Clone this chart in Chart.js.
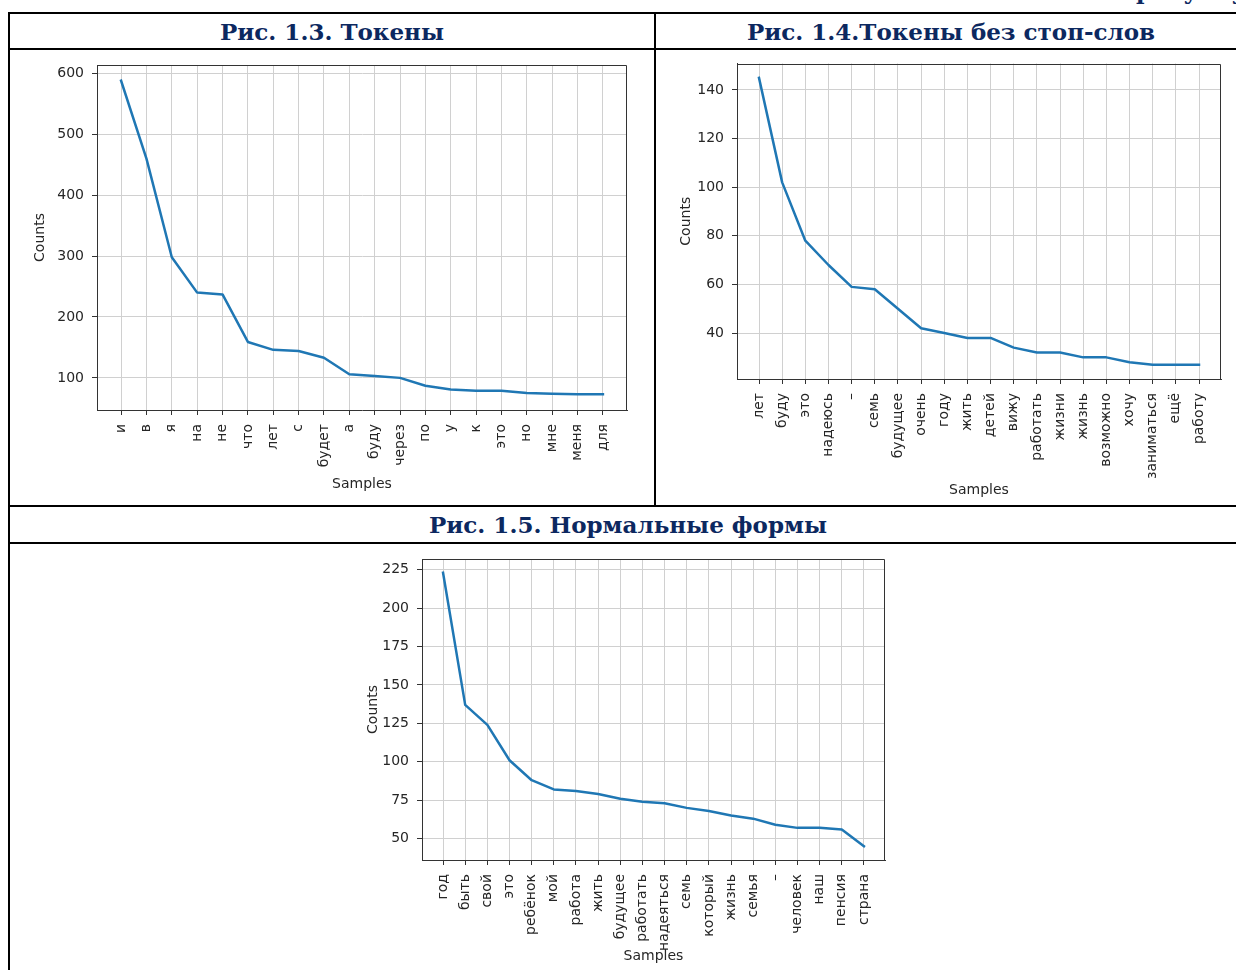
<!DOCTYPE html>
<html><head><meta charset="utf-8">
<script src="https://cdn.jsdelivr.net/npm/chart.js@4.4.1/dist/chart.umd.min.js"></script>
<style>
html,body{margin:0;padding:0;background:#fff;}
#page{position:relative;width:1236px;height:970px;overflow:hidden;background:#fff;}
.hl{position:absolute;background:#000;height:2px;}
.vl{position:absolute;background:#000;width:2px;}
.ttl{position:absolute;font-family:"DejaVu Serif",serif;font-weight:bold;color:#0c2860;font-size:23px;white-space:nowrap;display:flex;align-items:center;justify-content:center;}
.frag{position:absolute;font-family:"DejaVu Serif",serif;font-weight:bold;color:#0c2860;font-size:23px;line-height:23px;white-space:nowrap;}
canvas{position:absolute;}
</style></head><body><div id="page">
<div class="frag" style="left:1136px;top:-21px;">рисунку</div>
<div class="hl" style="left:8px;top:12px;width:1240px;"></div>
<div class="hl" style="left:8px;top:48px;width:1240px;"></div>
<div class="hl" style="left:8px;top:505px;width:1240px;"></div>
<div class="hl" style="left:8px;top:542px;width:1240px;"></div>
<div class="vl" style="left:8px;top:12px;height:960px;"></div>
<div class="vl" style="left:654px;top:12px;height:495px;"></div>
<div class="ttl" style="left:10px;top:14px;width:644px;height:34px;">Рис. 1.3. Токены</div>
<div class="ttl" style="left:656px;top:14px;width:590px;height:34px;">Рис. 1.4.Токены без стоп-слов</div>
<div class="ttl" style="left:10px;top:507px;width:1236px;height:35px;">Рис. 1.5. Нормальные формы</div>
<canvas id="c1" width="638" height="461" style="left:12px;top:43px;"></canvas>
<canvas id="c2" width="576" height="461" style="left:660px;top:43px;"></canvas>
<canvas id="c3" width="570" height="431" style="left:330px;top:539px;"></canvas>
</div>
<script>
const labels1 = ['и','в','я','на','не','что','лет','с','будет','а','буду','через','по','у','к','это','но','мне','меня','для'];
const counts1 = [588,460,298,240,237,159,146,144,133,106,103,100,87,81,79,79,75,74,73,73];
const yTicks1 = [100,200,300,400,500,600];

const labels2 = ['лет','буду','это','надеюсь','–','семь','будущее','очень','году','жить','детей','вижу','работать','жизни','жизнь','возможно','хочу','заниматься','ещё','работу'];
const counts2 = [145,102,78,68,59,58,50,42,40,38,38,34,32,32,30,30,28,27,27,27];
const yTicks2 = [40,60,80,100,120,140];

const labels3 = ['год','быть','свой','это','ребёнок','мой','работа','жить','будущее','работать','надеяться','семь','который','жизнь','семья','–','человек','наш','пенсия','страна'];
const counts3 = [223,137,124,101,88,82,81,79,76,74,73,70,68,65,63,59,57,57,56,45];
const yTicks3 = [50,75,100,125,150,175,200,225];

const xTitle = 'Samples';
const yTitle = 'Counts';

const frame = {
  id: 'frame',
  afterDatasetsDraw(chart) {
    const {ctx, chartArea: a} = chart;
    ctx.save();
    ctx.strokeStyle = '#333';
    ctx.lineWidth = 1;
    ctx.beginPath();
    const l = Math.round(a.left) + 0.5, r = Math.round(a.right) - 0.5, t = Math.round(a.top) + 0.5;
    ctx.moveTo(l, t); ctx.lineTo(r, t); ctx.lineTo(r, Math.round(a.bottom));
    ctx.stroke();
    ctx.restore();
  }
};

const FONT = {family: 'DejaVu Sans', size: 14};
const TXT = '#262626';

function makeChart(id, labels, counts, yTicks, g) {
  const n = labels.length;
  const lo = Math.min(...counts), hi = Math.max(...counts);
  const pad = (hi - lo) * 0.05;
  const data = counts.map((v, i) => ({x: i, y: v}));
  return new Chart(document.getElementById(id), {
    type: 'line',
    data: {datasets: [{data, borderColor: '#1f77b4', borderWidth: 2.5, pointRadius: 0,
      tension: 0, fill: false, borderJoinStyle: 'round', borderCapStyle: 'square'}]},
    options: {
      animation: false, responsive: false, maintainAspectRatio: false,
      layout: {padding: {top: g.pt, right: g.pr, left: 0, bottom: 0}},
      plugins: {legend: {display: false}, tooltip: {enabled: false}},
      scales: {
        x: {
          type: 'linear', min: -0.95, max: n - 1 + 0.95,
          afterBuildTicks: s => { s.ticks = labels.map((_, i) => ({value: i})); },
          afterFit: s => { s.height = g.xh; },
          ticks: {autoSkip: false, maxRotation: 90, minRotation: 90, padding: 9, color: TXT, font: FONT,
            callback: v => labels[v]},
          grid: {color: '#d0d0d0', lineWidth: 1, tickLength: 5, tickColor: '#333', drawTicks: true},
          border: {color: '#333', width: 1},
          title: {display: true, text: xTitle, color: TXT, font: FONT, padding: {top: 0, bottom: g.xtp}}
        },
        y: {
          type: 'linear', min: lo - pad, max: hi + pad,
          afterBuildTicks: s => { s.ticks = yTicks.map(v => ({value: v})); },
          afterFit: s => { s.width = g.yw; },
          ticks: {padding: 8, color: TXT, font: FONT, callback: v => String(v)},
          grid: {color: '#d0d0d0', lineWidth: 1, tickLength: 5, tickColor: '#333', drawTicks: true},
          border: {color: '#333', width: 1},
          title: {display: true, text: yTitle, color: TXT, font: FONT, padding: {top: g.ytp, bottom: 0}}
        }
      }
    },
    plugins: [frame]
  });
}

makeChart('c1', labels1, counts1, yTicks1, {pt: 22, pr: 23, yw: 85, xh: 94, ytp: 19.6, xtp: 11.6});
makeChart('c2', labels2, counts2, yTicks2, {pt: 20.5, pr: 15, yw: 77, xh: 125, ytp: 17.6, xtp: 5.6});
makeChart('c3', labels3, counts3, yTicks3, {pt: 20, pr: 15, yw: 92, xh: 110, ytp: 34.6, xtp: 5.6});
</script>
</body></html>
